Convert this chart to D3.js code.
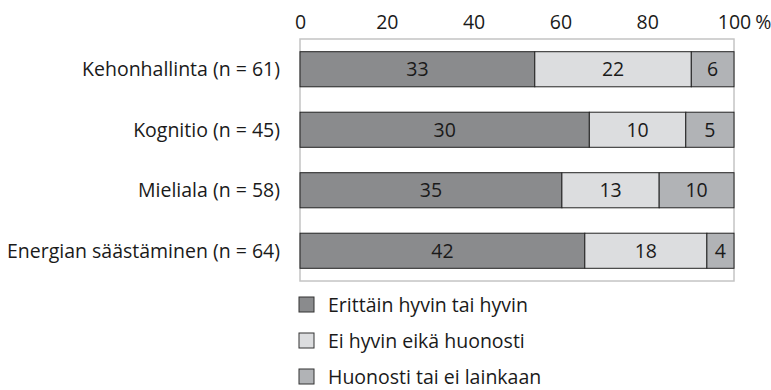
<!DOCTYPE html>
<html>
<head>
<meta charset="utf-8">
<script src="https://cdn.jsdelivr.net/npm/d3@7"></script>
<style>
  body { margin: 0; background: #fff; }
  text { font-family: "Open Sans", sans-serif; fill: #1a1a1a; }
</style>
</head>
<body>
<svg id="chart" width="771" height="390"></svg>
<script>
const categories = ["Kehonhallinta (n = 61)", "Kognitio (n = 45)", "Mieliala (n = 58)", "Energian säästäminen (n = 64)"];
const seriesNames = ["Erittäin hyvin tai hyvin", "Ei hyvin eikä huonosti", "Huonosti tai ei lainkaan"];
const good = [33, 30, 35, 42];
const neutral = [22, 10, 13, 18];
const poor = [6, 5, 10, 4];
const tickValues = [0, 20, 40, 60, 80, 100];
const colors = ["#8a8b8d", "#dcdddf", "#b1b3b6"];

const svg = d3.select("#chart");
const margin = { left: 300, right: 37, top: 39, bottom: 109 };
const W = 771, H = 390;
const fs = "19.5px";

const x = d3.scaleLinear().domain([0, 100]).range([margin.left, W - margin.right]);
const y = d3.scaleBand().domain(categories).range([margin.top, H - margin.bottom]).paddingInner(0.42).paddingOuter(0.21);

const rows = categories.map((c, i) => {
  const vals = [good[i], neutral[i], poor[i]];
  const total = d3.sum(vals);
  let acc = 0;
  return vals.map((v, k) => {
    const s = { cat: c, k, v, x0: acc / total * 100, x1: (acc + v) / total * 100 };
    acc += v;
    return s;
  });
});

// plot frame
svg.append("rect")
  .attr("x", x(0)).attr("y", margin.top)
  .attr("width", x(100) - x(0)).attr("height", H - margin.bottom - margin.top)
  .attr("fill", "none").attr("stroke", "#c4c4c4").attr("stroke-width", 1.5);

// stacked segments
const seg = svg.append("g").selectAll("g").data(rows.flat()).join("g");
seg.append("rect")
  .attr("x", d => x(d.x0)).attr("y", d => y(d.cat))
  .attr("width", d => x(d.x1) - x(d.x0)).attr("height", y.bandwidth())
  .attr("fill", d => colors[d.k]).attr("stroke", "#222").attr("stroke-width", 1);
seg.append("text")
  .attr("x", d => (x(d.x0) + x(d.x1)) / 2).attr("y", d => y(d.cat) + y.bandwidth() / 2)
  .attr("dy", "0.36em").attr("text-anchor", "middle")
  .style("font-size", fs)
  .text(d => d.v);

// top axis; the last tick carries the unit
const axis = svg.append("g").attr("transform", `translate(0,${margin.top - 10})`)
  .call(d3.axisTop(x).tickValues(tickValues).tickSize(0).tickPadding(0));
axis.select(".domain").remove();
axis.selectAll("text").style("font-size", fs).attr("fill", "#1a1a1a").style("font-family", null);
const lastTick = axis.selectAll(".tick text").filter(d => d === 100);
const numW = lastTick.node().getComputedTextLength();
lastTick.attr("text-anchor", "start").attr("x", -numW / 2);
lastTick.append("tspan").attr("dx", 4).text("%");

// category labels
svg.append("g").selectAll("text").data(categories).join("text")
  .attr("x", margin.left - 20).attr("y", d => y(d) + y.bandwidth() / 2)
  .attr("dy", "0.36em").attr("text-anchor", "end")
  .style("font-size", fs).text(d => d);

// legend
const leg = svg.append("g").selectAll("g").data(seriesNames).join("g")
  .attr("transform", (d, i) => `translate(299,${297 + i * 36})`);
leg.append("rect").attr("width", 15).attr("height", 15)
  .attr("fill", (d, i) => colors[i]).attr("stroke", "#333").attr("stroke-width", 1);
leg.append("text").attr("x", 29).attr("y", 7.5).attr("dy", "0.36em")
  .style("font-size", fs).text(d => d);
</script>
</body>
</html>
